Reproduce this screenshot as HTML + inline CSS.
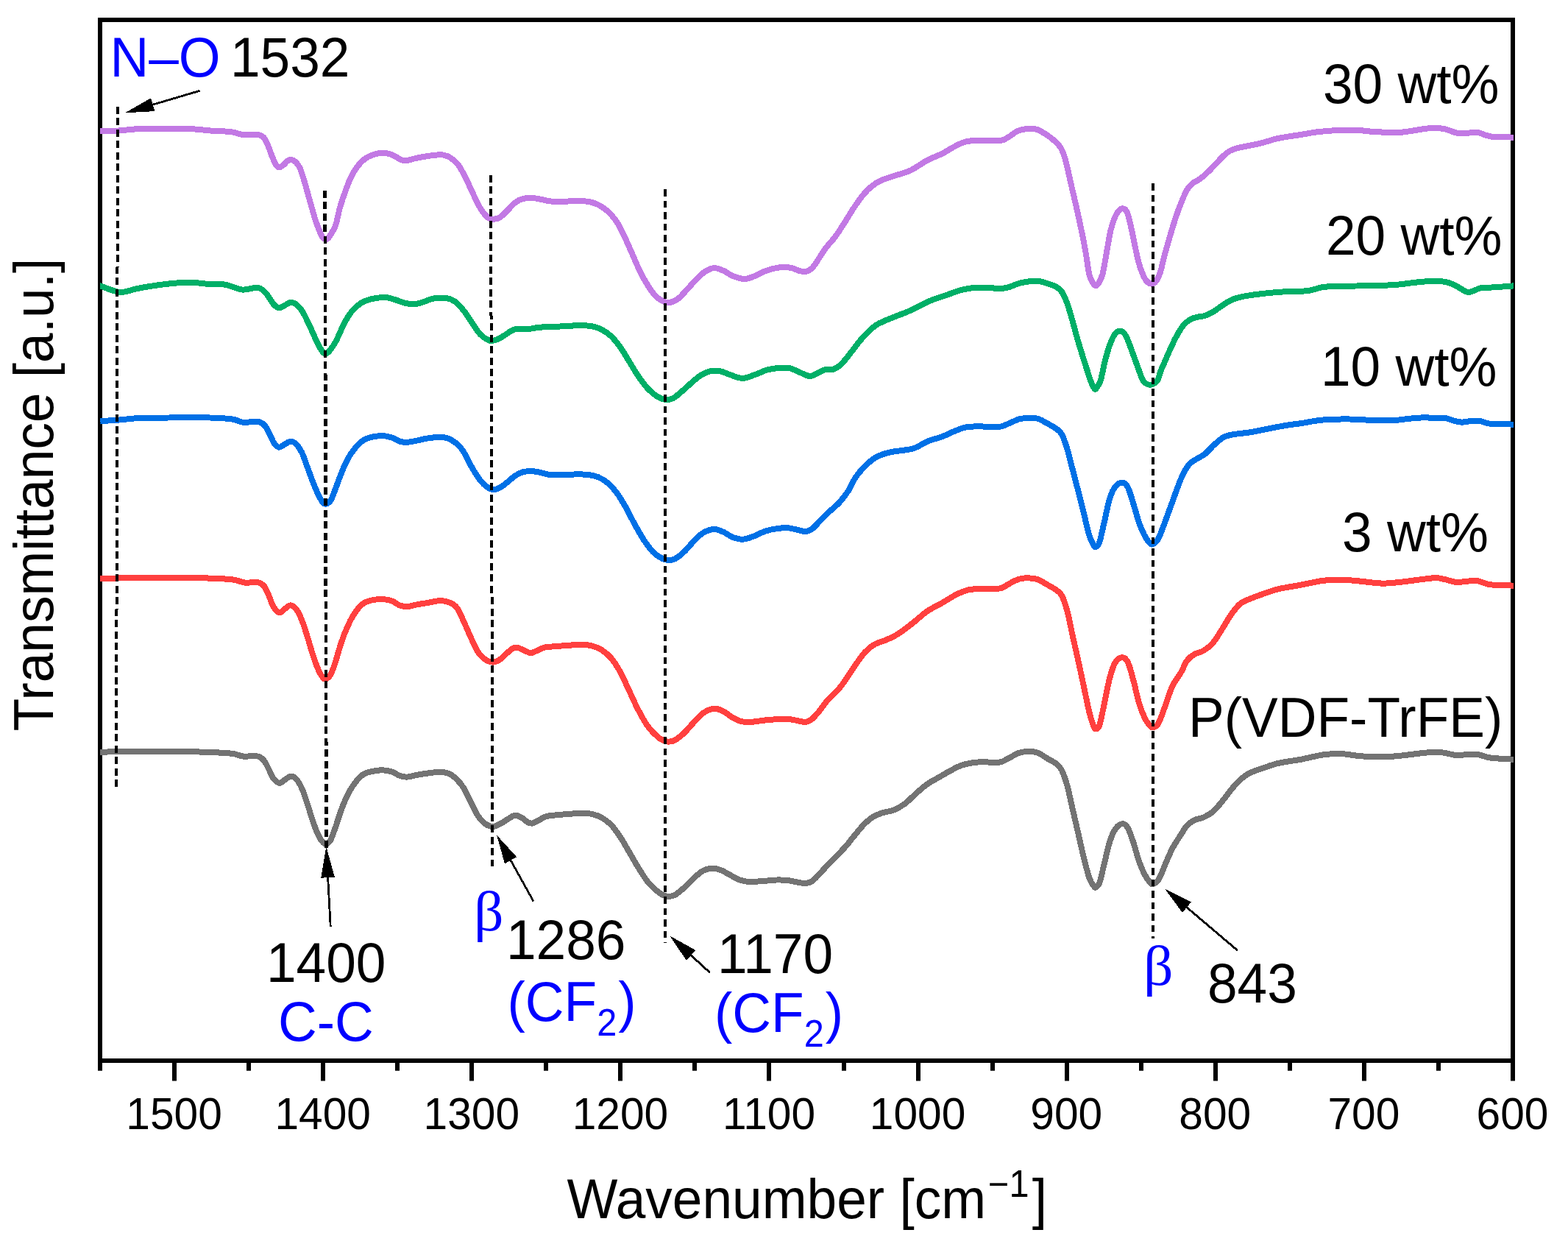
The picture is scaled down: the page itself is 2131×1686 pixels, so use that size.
<!DOCTYPE html>
<html lang="en"><head><meta charset="utf-8"><title>FTIR spectra</title>
<style>html,body{margin:0;padding:0;background:#fff;overflow:hidden}svg{display:block}</style></head>
<body>
<svg width="2131" height="1686" viewBox="0 0 2131 1686" font-family='"Liberation Sans", "DejaVu Sans", sans-serif'>
<rect x="0" y="0" width="2131" height="1686" fill="#fff"/>
<line x1="136" y1="1441.0" x2="136" y2="1454.7" stroke="#000" stroke-width="6"/>
<line x1="237" y1="1441.0" x2="237" y2="1468.5" stroke="#000" stroke-width="6"/>
<line x1="338" y1="1441.0" x2="338" y2="1454.7" stroke="#000" stroke-width="6"/>
<line x1="439" y1="1441.0" x2="439" y2="1468.5" stroke="#000" stroke-width="6"/>
<line x1="540" y1="1441.0" x2="540" y2="1454.7" stroke="#000" stroke-width="6"/>
<line x1="641" y1="1441.0" x2="641" y2="1468.5" stroke="#000" stroke-width="6"/>
<line x1="742" y1="1441.0" x2="742" y2="1454.7" stroke="#000" stroke-width="6"/>
<line x1="843" y1="1441.0" x2="843" y2="1468.5" stroke="#000" stroke-width="6"/>
<line x1="944" y1="1441.0" x2="944" y2="1454.7" stroke="#000" stroke-width="6"/>
<line x1="1045" y1="1441.0" x2="1045" y2="1468.5" stroke="#000" stroke-width="6"/>
<line x1="1147" y1="1441.0" x2="1147" y2="1454.7" stroke="#000" stroke-width="6"/>
<line x1="1248" y1="1441.0" x2="1248" y2="1468.5" stroke="#000" stroke-width="6"/>
<line x1="1349" y1="1441.0" x2="1349" y2="1454.7" stroke="#000" stroke-width="6"/>
<line x1="1450" y1="1441.0" x2="1450" y2="1468.5" stroke="#000" stroke-width="6"/>
<line x1="1551" y1="1441.0" x2="1551" y2="1454.7" stroke="#000" stroke-width="6"/>
<line x1="1652" y1="1441.0" x2="1652" y2="1468.5" stroke="#000" stroke-width="6"/>
<line x1="1753" y1="1441.0" x2="1753" y2="1454.7" stroke="#000" stroke-width="6"/>
<line x1="1854" y1="1441.0" x2="1854" y2="1468.5" stroke="#000" stroke-width="6"/>
<line x1="1955" y1="1441.0" x2="1955" y2="1454.7" stroke="#000" stroke-width="6"/>
<line x1="2056" y1="1441.0" x2="2056" y2="1468.5" stroke="#000" stroke-width="6"/>
<rect x="136.0" y="27.0" width="1920.0" height="1414.0" fill="none" stroke="#000" stroke-width="6"/>
<clipPath id="plotclip"><rect x="136" y="30" width="1921" height="1408"/></clipPath>
<g fill="none" stroke-width="8" stroke-linejoin="round" stroke-linecap="butt" clip-path="url(#plotclip)" shape-rendering="crispEdges">
<path stroke="#737373" d="M133.3 1021.8C133.8 1021.8 128.9 1022.0 136.3 1021.8C143.7 1021.6 162.0 1021.0 177.6 1020.8C193.2 1020.6 213.0 1020.6 230.1 1020.8C247.2 1021.0 266.0 1021.3 280.2 1021.8C294.4 1022.3 306.9 1022.8 315.3 1023.8C323.7 1024.8 324.5 1026.9 330.3 1027.5C336.1 1028.1 345.5 1026.5 350.3 1027.5C355.1 1028.5 356.6 1030.9 359.1 1033.8C361.6 1036.7 363.2 1041.1 365.3 1045.1C367.4 1049.1 369.2 1054.5 371.6 1057.6C374.0 1060.7 377.1 1063.6 379.8 1063.8C382.5 1064.0 385.3 1060.3 387.9 1058.8C390.5 1057.3 392.9 1054.6 395.4 1054.6C397.9 1054.6 400.4 1056.0 402.9 1058.8C405.4 1061.6 407.9 1065.8 410.4 1071.4C412.9 1077.0 415.4 1085.1 417.9 1092.6C420.4 1100.1 422.9 1109.3 425.4 1116.4C427.9 1123.5 430.6 1130.5 432.9 1135.2C435.2 1139.9 437.4 1142.8 439.2 1144.7C440.9 1146.6 441.7 1147.0 443.4 1146.5C445.1 1146.0 447.2 1145.0 449.2 1141.4C451.2 1137.9 453.2 1131.7 455.5 1125.2C457.8 1118.7 460.5 1109.5 463.0 1102.6C465.5 1095.7 467.6 1090.0 470.5 1083.9C473.4 1077.9 476.8 1071.5 480.5 1066.3C484.2 1061.1 488.8 1055.6 493.0 1052.6C497.2 1049.6 500.9 1049.1 505.5 1048.1C510.1 1047.0 515.9 1046.2 520.5 1046.3C525.1 1046.4 529.3 1047.5 533.1 1048.8C536.9 1050.0 539.8 1052.7 543.1 1053.8C546.4 1054.9 548.9 1055.8 553.1 1055.6C557.3 1055.4 563.5 1053.4 568.1 1052.6C572.7 1051.8 575.6 1051.2 580.6 1050.6C585.6 1050.0 593.2 1048.7 598.2 1048.8C603.2 1048.9 607.0 1049.6 610.7 1051.3C614.5 1053.0 617.5 1055.6 620.7 1058.8C623.9 1062.0 626.8 1065.0 630.0 1070.3C633.2 1075.5 636.7 1083.8 640.0 1090.3C643.3 1096.8 646.7 1104.2 650.0 1109.1C653.3 1114.0 656.6 1117.3 660.0 1119.6C663.4 1121.9 666.8 1123.0 670.1 1122.9C673.5 1122.8 676.8 1120.8 680.1 1119.1C683.4 1117.4 687.2 1114.7 690.1 1112.9C693.0 1111.1 695.5 1109.2 697.6 1108.4C699.7 1107.6 700.5 1107.4 702.6 1107.9C704.7 1108.4 707.6 1110.0 710.1 1111.6C712.6 1113.2 715.3 1116.3 717.6 1117.4C719.9 1118.5 721.4 1119.0 723.9 1118.4C726.4 1117.9 729.5 1115.6 732.6 1114.1C735.7 1112.5 738.9 1110.2 742.7 1109.1C746.5 1108.0 750.2 1107.9 755.2 1107.4C760.2 1106.9 766.9 1106.3 772.7 1105.9C778.5 1105.5 784.8 1104.9 790.2 1104.9C795.6 1104.9 800.6 1105.1 805.2 1106.1C809.8 1107.1 813.6 1108.5 817.8 1110.9C822.0 1113.3 826.1 1116.1 830.3 1120.4C834.5 1124.7 838.6 1130.5 842.8 1136.7C847.0 1143.0 851.1 1150.8 855.3 1157.9C859.5 1165.0 863.6 1172.5 867.8 1179.2C872.0 1185.9 876.1 1192.8 880.3 1198.0C884.5 1203.2 889.3 1207.5 892.9 1210.5C896.5 1213.5 898.9 1215.0 901.6 1216.3C904.3 1217.5 906.4 1218.1 909.1 1218.0C911.8 1217.9 914.4 1217.6 917.9 1215.5C921.4 1213.4 926.2 1209.2 930.4 1205.5C934.6 1201.8 938.7 1196.8 942.9 1193.0C947.1 1189.2 951.3 1185.2 955.5 1183.0C959.7 1180.8 963.8 1179.8 968.0 1179.7C972.2 1179.6 976.3 1180.9 980.5 1182.5C984.7 1184.1 988.8 1187.0 993.0 1189.2C997.2 1191.4 1001.3 1194.0 1005.5 1195.5C1009.7 1197.0 1012.1 1197.8 1018.0 1198.0C1023.9 1198.2 1034.3 1197.1 1040.6 1196.7C1046.9 1196.3 1050.6 1195.6 1055.6 1195.5C1060.6 1195.4 1066.0 1195.5 1070.6 1196.0C1075.2 1196.5 1079.1 1197.8 1083.1 1198.5C1087.1 1199.2 1091.1 1200.2 1094.4 1200.0C1097.8 1199.8 1100.1 1199.5 1103.2 1197.5C1106.3 1195.5 1109.5 1191.9 1113.2 1188.0C1117.0 1184.1 1121.1 1179.0 1125.7 1174.2C1130.3 1169.4 1136.1 1164.0 1140.7 1159.2C1145.3 1154.4 1150.0 1149.2 1153.2 1145.4C1156.4 1141.6 1156.4 1141.0 1160.1 1136.6C1163.8 1132.2 1170.5 1123.7 1175.1 1119.1C1179.7 1114.5 1183.4 1111.6 1187.6 1109.1C1191.8 1106.6 1195.5 1105.6 1200.1 1104.1C1204.7 1102.6 1210.2 1102.4 1215.2 1100.3C1220.2 1098.2 1225.2 1095.3 1230.2 1091.6C1235.2 1087.8 1240.2 1082.2 1245.2 1077.8C1250.2 1073.4 1255.2 1068.8 1260.2 1065.3C1265.2 1061.8 1270.2 1059.4 1275.2 1056.5C1280.2 1053.6 1285.3 1050.5 1290.3 1047.8C1295.3 1045.1 1300.3 1042.2 1305.3 1040.3C1310.3 1038.4 1315.3 1037.3 1320.3 1036.5C1325.3 1035.7 1330.7 1035.3 1335.3 1035.2C1339.9 1035.1 1343.6 1035.7 1347.8 1035.7C1352.0 1035.7 1356.2 1036.3 1360.4 1035.2C1364.6 1034.1 1368.7 1031.1 1372.9 1029.0C1377.1 1026.9 1381.2 1024.0 1385.4 1022.7C1389.6 1021.4 1393.7 1021.0 1397.9 1021.0C1402.1 1021.0 1406.2 1021.2 1410.4 1022.7C1414.6 1024.2 1418.7 1027.7 1422.9 1030.2C1427.1 1032.7 1432.2 1035.0 1435.5 1037.7C1438.8 1040.4 1440.5 1041.5 1443.0 1046.5C1445.5 1051.5 1448.0 1058.8 1450.5 1067.8C1453.0 1076.8 1455.5 1089.4 1458.0 1100.3C1460.5 1111.2 1463.0 1122.1 1465.5 1132.9C1468.0 1143.8 1470.5 1155.4 1473.0 1165.4C1475.5 1175.4 1478.2 1186.5 1480.5 1193.0C1482.8 1199.5 1485.3 1202.1 1486.8 1204.2C1488.3 1206.3 1488.0 1206.3 1489.3 1205.5C1490.5 1204.7 1492.4 1204.4 1494.3 1199.2C1496.2 1194.0 1498.3 1183.4 1500.6 1174.2C1502.9 1165.0 1505.6 1152.0 1508.1 1144.1C1510.6 1136.2 1512.7 1130.8 1515.6 1126.6C1518.5 1122.4 1522.7 1119.3 1525.6 1119.1C1528.5 1118.9 1530.6 1121.0 1533.1 1125.4C1535.6 1129.8 1538.1 1137.9 1540.6 1145.4C1543.1 1152.9 1545.6 1163.3 1548.1 1170.4C1550.6 1177.5 1553.1 1183.2 1555.6 1188.0C1558.1 1192.8 1561.2 1197.0 1563.1 1199.2C1565.0 1201.4 1565.0 1201.6 1566.9 1201.0C1568.8 1200.4 1571.7 1199.8 1574.4 1195.5C1577.1 1191.2 1580.1 1182.5 1583.2 1175.4C1586.3 1168.3 1589.5 1160.0 1593.2 1152.9C1596.9 1145.9 1602.2 1138.3 1605.5 1133.1C1608.8 1127.9 1610.1 1124.9 1613.0 1121.8C1615.9 1118.7 1619.2 1116.2 1623.0 1114.3C1626.8 1112.4 1631.4 1112.4 1635.6 1110.5C1639.8 1108.6 1643.9 1106.5 1648.1 1103.0C1652.3 1099.5 1656.4 1094.2 1660.6 1089.2C1664.8 1084.2 1668.9 1078.0 1673.1 1073.0C1677.3 1068.0 1681.4 1063.0 1685.6 1059.2C1689.8 1055.4 1692.7 1053.1 1698.1 1050.4C1703.5 1047.7 1711.5 1045.2 1718.2 1042.9C1724.9 1040.6 1729.9 1038.6 1738.2 1036.7C1746.5 1034.8 1758.2 1033.6 1768.2 1031.7C1778.2 1029.8 1789.1 1026.7 1798.3 1025.4C1807.5 1024.1 1814.9 1023.8 1823.3 1024.1C1831.7 1024.4 1839.2 1026.5 1848.4 1027.2C1857.6 1027.9 1869.2 1028.5 1878.4 1028.4C1887.6 1028.3 1895.1 1027.5 1903.4 1026.7C1911.8 1025.9 1920.6 1024.5 1928.5 1023.6C1936.4 1022.8 1945.2 1021.7 1951.0 1021.6C1956.8 1021.5 1958.9 1022.2 1963.5 1022.9C1968.1 1023.6 1973.9 1025.5 1978.5 1025.9C1983.1 1026.3 1986.4 1025.6 1991.0 1025.4C1995.6 1025.2 2001.5 1024.2 2006.1 1024.6C2010.7 1025.0 2014.8 1027.0 2018.6 1027.9C2022.3 1028.8 2022.3 1029.3 2028.6 1029.9C2034.8 1030.5 2050.8 1031.4 2056.1 1031.7C2061.3 1032.0 2059.4 1031.7 2060.1 1031.7"/>
<path stroke="#FF403F" d="M133.3 786.1C133.8 786.1 129.8 786.2 136.3 786.1C142.9 786.0 157.0 785.5 172.6 785.3C188.2 785.1 213.0 784.8 230.1 784.8C247.2 784.8 261.0 784.9 275.2 785.3C289.4 785.7 305.7 786.2 315.3 787.3C324.9 788.3 327.0 791.0 332.8 791.6C338.6 792.2 345.9 790.3 350.3 791.1C354.7 791.9 356.6 793.6 359.1 796.6C361.6 799.6 363.2 804.5 365.3 809.1C367.4 813.7 369.2 820.2 371.6 824.1C374.0 828.0 377.1 832.0 379.8 832.4C382.5 832.8 385.4 828.3 387.9 826.6C390.4 824.9 392.4 822.2 394.9 822.4C397.4 822.6 400.3 824.5 402.9 827.9C405.5 831.3 407.9 836.6 410.4 842.9C412.9 849.2 415.4 857.6 417.9 865.5C420.4 873.4 422.9 883.0 425.4 890.5C427.9 898.0 430.6 905.4 432.9 910.5C435.2 915.6 437.5 919.0 439.2 921.0C440.9 923.0 441.2 923.2 442.9 922.5C444.6 921.8 447.1 920.5 449.2 916.8C451.3 913.1 453.2 907.4 455.5 900.5C457.8 893.6 460.5 883.0 463.0 875.5C465.5 868.0 467.6 862.1 470.5 855.4C473.4 848.7 476.8 841.2 480.5 835.4C484.2 829.6 488.8 823.7 493.0 820.4C497.2 817.1 500.9 816.4 505.5 815.4C510.1 814.4 515.9 813.9 520.5 814.1C525.1 814.3 529.3 815.2 533.1 816.6C536.9 818.0 539.8 821.1 543.1 822.4C546.4 823.6 548.9 824.3 553.1 824.1C557.3 823.9 563.5 821.9 568.1 821.1C572.7 820.3 575.6 819.9 580.6 819.1C585.6 818.3 593.2 816.2 598.2 816.1C603.2 816.0 607.0 817.1 610.7 818.6C614.5 820.1 617.5 821.2 620.7 825.4C623.9 829.6 626.8 837.0 630.0 843.8C633.2 850.6 636.7 859.2 640.0 866.3C643.3 873.4 646.7 881.3 650.0 886.3C653.3 891.3 656.6 894.1 660.0 896.3C663.4 898.5 666.8 899.7 670.1 899.6C673.5 899.5 676.8 897.8 680.1 895.6C683.4 893.4 687.2 888.8 690.1 886.3C693.0 883.8 695.3 881.6 697.6 880.6C699.9 879.6 701.4 879.6 703.9 880.1C706.4 880.6 709.7 882.6 712.6 883.8C715.5 885.0 718.5 887.1 721.4 887.1C724.3 887.1 727.0 885.0 730.1 883.8C733.2 882.5 736.0 880.5 740.2 879.6C744.4 878.7 749.8 878.6 755.2 878.1C760.6 877.6 766.9 877.2 772.7 876.8C778.5 876.4 784.8 875.7 790.2 875.8C795.6 875.9 800.6 876.4 805.2 877.6C809.8 878.8 813.6 880.4 817.8 883.1C822.0 885.8 826.1 888.9 830.3 893.8C834.5 898.7 838.6 905.1 842.8 912.6C847.0 920.1 851.1 930.1 855.3 938.9C859.5 947.7 863.6 957.3 867.8 965.2C872.0 973.1 876.1 980.7 880.3 986.5C884.5 992.3 889.3 997.0 892.9 1000.2C896.5 1003.5 898.9 1004.8 901.6 1006.0C904.3 1007.2 906.4 1007.8 909.1 1007.7C911.8 1007.6 914.4 1007.3 917.9 1005.2C921.4 1003.1 926.2 999.2 930.4 995.2C934.6 991.2 938.7 985.8 942.9 981.4C947.1 977.0 950.9 972.0 955.5 968.9C960.1 965.8 965.9 963.1 970.5 962.7C975.1 962.3 978.8 964.4 983.0 966.4C987.2 968.4 991.3 972.4 995.5 974.7C999.7 977.0 1003.8 979.2 1008.0 980.2C1012.2 981.2 1015.1 981.2 1020.5 980.9C1025.9 980.6 1034.8 979.0 1040.6 978.4C1046.4 977.8 1050.6 977.5 1055.6 977.2C1060.6 977.0 1066.0 976.6 1070.6 976.9C1075.2 977.2 1079.1 978.2 1083.1 978.9C1087.1 979.6 1091.1 981.2 1094.4 980.9C1097.8 980.6 1100.1 979.6 1103.2 977.2C1106.3 974.8 1109.5 970.9 1113.2 966.4C1117.0 961.9 1121.1 955.4 1125.7 950.2C1130.3 945.0 1136.1 940.5 1140.7 935.1C1145.3 929.7 1149.6 922.9 1153.2 917.6C1156.8 912.3 1158.9 908.7 1162.6 903.5C1166.2 898.3 1170.9 891.1 1175.1 886.5C1179.3 881.9 1182.6 878.9 1187.6 876.0C1192.6 873.1 1199.8 871.4 1205.2 869.0C1210.6 866.6 1214.4 865.2 1220.2 861.5C1226.0 857.8 1233.5 851.9 1240.2 846.7C1246.9 841.5 1253.5 835.0 1260.2 830.4C1266.9 825.8 1273.6 822.9 1280.3 819.1C1287.0 815.3 1294.5 810.3 1300.3 807.4C1306.1 804.5 1310.3 802.9 1315.3 801.6C1320.3 800.4 1325.3 800.2 1330.3 799.9C1335.3 799.6 1340.3 800.0 1345.3 799.9C1350.3 799.8 1355.8 800.4 1360.4 799.1C1365.0 797.8 1368.7 794.4 1372.9 792.3C1377.1 790.2 1381.2 787.8 1385.4 786.6C1389.6 785.4 1393.7 785.2 1397.9 785.3C1402.1 785.4 1406.2 785.8 1410.4 787.3C1414.6 788.8 1418.7 791.7 1422.9 794.1C1427.1 796.5 1432.2 799.1 1435.5 801.6C1438.8 804.1 1440.5 804.3 1443.0 809.1C1445.5 813.9 1448.0 821.1 1450.5 830.4C1453.0 839.7 1455.5 853.7 1458.0 865.0C1460.5 876.3 1463.0 886.7 1465.5 898.0C1468.0 909.3 1470.5 921.3 1473.0 933.0C1475.5 944.7 1478.2 958.9 1480.5 968.0C1482.8 977.1 1485.2 984.0 1486.8 987.7C1488.3 991.4 1488.5 990.6 1489.8 990.2C1491.0 989.8 1492.5 990.7 1494.3 985.2C1496.1 979.7 1498.3 967.6 1500.6 957.0C1502.9 946.4 1505.6 931.0 1508.1 921.5C1510.6 912.0 1512.7 905.0 1515.6 900.3C1518.5 895.6 1522.7 893.2 1525.6 893.2C1528.5 893.2 1530.6 894.9 1533.1 900.3C1535.6 905.6 1538.1 916.1 1540.6 925.3C1543.1 934.5 1545.6 947.0 1548.1 955.3C1550.6 963.6 1553.1 970.0 1555.6 975.2C1558.1 980.4 1561.1 984.2 1563.1 986.4C1565.1 988.6 1565.8 988.8 1567.7 988.2C1569.6 987.6 1571.8 987.4 1574.4 982.7C1577.0 978.0 1580.1 968.5 1583.2 960.1C1586.3 951.8 1589.5 940.5 1593.2 932.6C1596.9 924.7 1602.2 918.5 1605.5 912.7C1608.8 906.9 1610.1 901.7 1613.0 897.7C1615.9 893.8 1619.2 891.3 1623.0 889.0C1626.8 886.7 1631.4 886.5 1635.6 884.0C1639.8 881.5 1643.9 878.7 1648.1 873.9C1652.3 869.1 1656.4 861.7 1660.6 855.2C1664.8 848.7 1668.9 841.0 1673.1 835.1C1677.3 829.2 1681.4 823.6 1685.6 820.1C1689.8 816.6 1692.7 816.2 1698.1 813.9C1703.5 811.6 1711.5 808.6 1718.2 806.3C1724.9 804.0 1729.9 802.0 1738.2 800.1C1746.5 798.2 1758.2 796.5 1768.2 794.6C1778.2 792.7 1789.1 790.0 1798.3 788.8C1807.5 787.6 1814.9 787.5 1823.3 787.6C1831.7 787.7 1839.2 788.8 1848.4 789.6C1857.6 790.4 1869.2 792.4 1878.4 792.6C1887.6 792.8 1895.1 791.6 1903.4 790.8C1911.8 790.0 1920.6 788.5 1928.5 787.6C1936.4 786.7 1945.2 785.2 1951.0 785.1C1956.8 785.0 1958.9 786.2 1963.5 787.1C1968.1 788.0 1973.9 790.3 1978.5 790.8C1983.1 791.3 1986.4 790.4 1991.0 790.1C1995.6 789.8 2001.5 788.4 2006.1 788.8C2010.7 789.2 2014.8 791.6 2018.6 792.6C2022.3 793.6 2022.3 794.1 2028.6 794.6C2034.8 795.1 2050.8 795.4 2056.1 795.6C2061.3 795.8 2059.4 795.6 2060.1 795.6"/>
<path stroke="#0070E6" d="M133.3 572.0C133.8 572.0 132.1 572.2 136.3 572.0C140.6 571.8 149.8 571.5 158.8 570.8C167.8 570.1 178.2 568.5 190.1 568.0C202.0 567.5 214.2 567.6 230.1 567.5C245.9 567.4 271.0 567.2 285.2 567.5C299.4 567.8 307.8 568.5 315.3 569.5C322.8 570.5 325.7 573.2 330.3 573.8C334.9 574.4 339.1 573.1 342.8 573.0C346.6 572.9 349.9 572.3 352.8 573.3C355.7 574.3 358.0 576.0 360.3 578.8C362.6 581.6 364.5 586.1 366.6 590.1C368.7 594.1 370.7 599.7 372.8 602.6C374.9 605.5 376.8 607.4 379.1 607.6C381.4 607.8 383.9 605.1 386.6 603.8C389.3 602.5 392.7 599.6 395.4 599.6C398.1 599.6 400.4 601.2 402.9 603.8C405.4 606.4 407.9 609.9 410.4 615.1C412.9 620.3 415.4 628.4 417.9 635.1C420.4 641.8 422.9 648.9 425.4 655.2C427.9 661.5 430.6 668.0 432.9 672.7C435.2 677.4 437.5 681.2 439.2 683.2C440.9 685.2 441.2 685.2 442.9 684.7C444.6 684.2 447.1 683.5 449.2 680.2C451.3 677.0 453.2 671.1 455.5 665.2C457.8 659.4 460.5 651.4 463.0 645.1C465.5 638.8 467.6 633.2 470.5 627.6C473.4 622.0 476.8 616.2 480.5 611.4C484.2 606.6 488.8 601.7 493.0 598.8C497.2 595.9 500.9 594.9 505.5 593.8C510.1 592.7 515.9 592.0 520.5 592.1C525.1 592.2 529.3 593.4 533.1 594.6C536.9 595.9 539.8 598.6 543.1 599.6C546.4 600.6 549.4 600.9 553.1 600.8C556.9 600.7 561.0 599.7 565.6 598.8C570.2 597.9 575.2 596.4 580.6 595.6C586.0 594.8 593.2 593.7 598.2 593.8C603.2 593.9 606.5 594.4 610.7 596.3C614.9 598.2 620.0 602.2 623.2 605.1C626.4 608.0 627.2 609.2 630.0 613.8C632.8 618.4 636.7 626.8 640.0 632.6C643.3 638.5 646.7 644.3 650.0 648.9C653.3 653.5 656.6 657.4 660.0 660.1C663.4 662.8 666.8 664.8 670.1 665.1C673.5 665.4 676.8 663.9 680.1 662.1C683.4 660.4 686.8 657.2 690.1 654.6C693.4 652.0 696.8 648.6 700.1 646.4C703.4 644.2 706.4 642.4 710.1 641.4C713.9 640.4 718.4 640.0 722.6 640.1C726.8 640.2 730.9 641.3 735.1 642.1C739.3 642.9 742.7 644.6 747.7 645.1C752.7 645.6 759.0 645.2 765.2 645.1C771.5 645.0 779.4 644.4 785.2 644.4C791.0 644.4 795.6 644.5 800.2 645.1C804.8 645.7 808.6 646.4 812.8 648.1C817.0 649.9 821.1 652.1 825.3 655.6C829.5 659.1 833.6 663.4 837.8 668.9C842.0 674.4 846.1 681.6 850.3 688.9C854.5 696.2 858.6 705.2 862.8 712.7C867.0 720.2 871.1 727.7 875.3 734.0C879.5 740.3 883.7 746.1 887.9 750.3C892.1 754.5 896.9 757.2 900.4 759.0C903.9 760.8 906.2 761.0 909.1 761.0C912.0 761.0 914.4 761.0 917.9 759.0C921.4 757.0 926.2 753.0 930.4 749.0C934.6 745.0 938.7 739.4 942.9 735.2C947.1 731.0 950.9 726.7 955.5 724.0C960.1 721.3 965.9 719.2 970.5 719.0C975.1 718.8 978.8 720.9 983.0 722.7C987.2 724.5 991.1 728.0 995.5 729.7C999.9 731.4 1004.7 732.8 1009.3 732.7C1013.9 732.6 1017.9 730.9 1023.1 729.0C1028.3 727.1 1035.2 723.3 1040.6 721.5C1046.0 719.7 1050.6 718.9 1055.6 718.2C1060.6 717.5 1066.0 717.0 1070.6 717.2C1075.2 717.5 1079.1 718.9 1083.1 719.7C1087.1 720.5 1091.1 722.1 1094.4 722.0C1097.8 721.9 1100.1 721.2 1103.2 719.0C1106.3 716.8 1109.5 712.8 1113.2 709.0C1117.0 705.2 1121.1 700.8 1125.7 696.4C1130.3 692.0 1136.1 687.7 1140.7 682.7C1145.3 677.7 1149.6 672.0 1153.2 666.4C1156.8 660.8 1158.9 654.3 1162.6 648.9C1166.2 643.5 1170.9 638.2 1175.1 633.9C1179.3 629.6 1183.4 625.9 1187.6 623.1C1191.8 620.3 1195.9 618.7 1200.1 617.1C1204.3 615.5 1208.1 614.7 1212.7 613.8C1217.3 612.9 1222.7 612.6 1227.7 611.8C1232.7 611.0 1236.9 611.0 1242.7 608.8C1248.5 606.6 1256.4 601.4 1262.7 598.8C1269.0 596.2 1274.5 595.5 1280.3 593.3C1286.1 591.1 1292.4 587.6 1297.8 585.5C1303.2 583.4 1307.4 581.5 1312.8 580.5C1318.2 579.5 1324.9 579.4 1330.3 579.3C1335.7 579.2 1340.3 580.0 1345.3 580.0C1350.3 580.0 1355.8 580.4 1360.4 579.5C1365.0 578.6 1368.7 576.2 1372.9 574.5C1377.1 572.8 1381.2 570.4 1385.4 569.3C1389.6 568.2 1393.7 568.1 1397.9 568.0C1402.1 567.9 1406.2 567.6 1410.4 568.8C1414.6 570.0 1418.7 572.7 1422.9 575.0C1427.1 577.3 1432.2 580.0 1435.5 582.5C1438.8 585.0 1440.5 585.5 1443.0 590.1C1445.5 594.7 1448.0 602.0 1450.5 610.1C1453.0 618.2 1455.5 629.3 1458.0 638.9C1460.5 648.5 1463.0 657.9 1465.5 667.7C1468.0 677.5 1470.5 687.7 1473.0 697.7C1475.5 707.7 1478.2 720.4 1480.5 727.7C1482.8 735.0 1485.2 739.0 1486.8 741.5C1488.3 744.0 1488.5 743.6 1489.8 742.8C1491.0 742.0 1492.5 741.9 1494.3 736.5C1496.1 731.1 1498.3 720.0 1500.6 710.2C1502.9 700.4 1505.6 685.8 1508.1 677.7C1510.6 669.6 1512.7 665.1 1515.6 661.4C1518.5 657.7 1522.7 655.4 1525.6 655.6C1528.5 655.8 1530.6 657.8 1533.1 662.7C1535.6 667.6 1538.1 677.3 1540.6 685.2C1543.1 693.1 1545.6 703.1 1548.1 710.2C1550.6 717.3 1553.1 723.0 1555.6 727.7C1558.1 732.4 1561.2 736.4 1563.1 738.3C1565.0 740.2 1565.0 740.1 1566.9 739.0C1568.8 737.9 1571.3 737.5 1574.4 731.5C1577.5 725.5 1582.2 712.1 1585.7 702.7C1589.2 693.3 1592.4 684.2 1595.7 675.2C1599.0 666.2 1602.4 656.2 1605.7 648.9C1609.0 641.6 1612.4 635.6 1615.7 631.4C1619.0 627.2 1622.0 626.4 1625.7 623.9C1629.4 621.4 1633.7 619.9 1637.8 616.6C1641.9 613.3 1646.1 607.9 1650.3 604.1C1654.5 600.4 1658.7 596.4 1662.9 594.1C1667.1 591.8 1669.2 591.5 1675.4 590.3C1681.7 589.1 1692.1 588.5 1700.4 587.1C1708.8 585.7 1717.3 583.7 1725.5 582.1C1733.7 580.5 1742.6 578.8 1749.8 577.6C1757.0 576.4 1762.2 576.1 1768.5 575.1C1774.8 574.1 1781.0 572.7 1787.3 571.8C1793.6 570.9 1798.3 570.3 1806.1 569.9C1813.9 569.5 1824.8 569.4 1834.2 569.5C1843.6 569.6 1853.0 570.5 1862.4 570.8C1871.8 571.1 1882.8 571.6 1890.6 571.4C1898.4 571.2 1903.0 570.1 1909.3 569.5C1915.5 568.9 1921.8 567.9 1928.1 567.6C1934.4 567.3 1941.0 567.5 1946.9 567.6C1952.9 567.7 1959.1 567.4 1963.8 568.0C1968.5 568.6 1971.2 570.5 1975.0 571.4C1978.8 572.3 1982.5 573.5 1986.3 573.6C1990.0 573.8 1993.4 572.6 1997.5 572.3C2001.6 572.0 2006.3 571.5 2010.7 572.0C2015.1 572.5 2018.8 574.8 2023.8 575.5C2028.8 576.2 2035.4 575.9 2040.7 576.1C2046.0 576.3 2052.5 576.5 2055.7 576.6C2058.9 576.7 2059.0 576.6 2059.7 576.6"/>
<path stroke="#00AF67" d="M133.2 388.4C133.7 388.4 133.6 387.6 136.2 388.4C138.8 389.2 144.8 391.8 148.8 393.1C152.8 394.5 156.6 395.9 160.0 396.5C163.4 397.1 165.0 397.2 169.4 396.5C173.8 395.8 180.4 393.4 186.3 392.1C192.2 390.8 198.8 389.8 205.1 388.8C211.4 387.8 217.7 386.9 223.9 386.1C230.2 385.4 236.3 384.7 242.6 384.3C248.8 383.9 255.1 383.5 261.4 383.7C267.7 383.9 273.0 385.1 280.2 385.6C287.4 386.1 298.4 385.7 304.6 386.5C310.9 387.3 313.5 389.1 317.7 390.3C321.9 391.5 326.1 393.3 329.9 393.6C333.6 393.9 336.9 392.6 340.2 392.1C343.5 391.6 346.8 390.5 349.6 390.8C352.4 391.1 354.6 392.1 357.1 394.0C359.6 395.9 362.1 399.2 364.6 402.5C367.1 405.8 369.6 411.1 372.1 413.7C374.6 416.3 377.1 418.2 379.6 418.4C382.1 418.6 384.5 415.9 387.2 414.7C389.9 413.4 392.8 410.9 395.6 410.9C398.4 410.9 401.3 412.5 404.0 414.7C406.7 416.9 408.8 419.4 411.6 424.1C414.4 428.8 417.8 436.2 420.9 442.8C424.0 449.4 427.7 458.1 430.3 463.5C432.9 468.9 434.6 472.2 436.5 475.0C438.4 477.8 439.7 480.2 441.5 480.5C443.3 480.8 445.0 479.8 447.5 477.0C450.0 474.2 453.2 469.8 456.6 463.5C460.0 457.2 464.4 445.7 467.9 439.1C471.3 432.5 474.2 428.2 477.3 424.1C480.4 420.0 483.5 417.2 486.6 414.7C489.7 412.2 492.2 410.6 496.0 409.0C499.8 407.4 504.4 406.1 509.2 405.3C514.0 404.5 520.3 403.8 525.0 404.1C529.7 404.5 533.4 406.1 537.6 407.4C541.8 408.6 545.9 410.6 550.1 411.6C554.3 412.6 558.4 413.6 562.6 413.4C566.8 413.2 570.9 411.6 575.1 410.4C579.3 409.1 583.4 406.9 587.6 405.9C591.8 404.9 595.9 404.5 600.1 404.6C604.3 404.7 608.9 405.1 612.7 406.6C616.5 408.1 619.4 410.3 622.7 413.4C626.0 416.5 629.4 420.9 632.7 425.4C636.0 429.9 639.4 435.6 642.7 440.4C646.0 445.2 649.4 450.6 652.7 454.2C656.0 457.8 660.0 460.2 662.7 461.7C665.4 463.1 666.5 463.1 669.0 462.9C671.5 462.7 674.6 461.8 677.7 460.4C680.8 458.9 684.4 456.3 687.8 454.2C691.1 452.1 694.5 449.1 697.8 447.9C701.1 446.6 704.0 446.9 707.8 446.7C711.5 446.5 716.1 447.0 720.3 446.7C724.5 446.4 727.8 445.1 732.8 444.7C737.8 444.3 744.0 444.5 750.3 444.2C756.6 443.9 763.7 443.2 770.4 442.9C777.1 442.6 784.6 442.1 790.4 442.2C796.2 442.3 800.8 442.4 805.4 443.4C810.0 444.3 813.7 445.7 817.9 447.9C822.1 450.1 826.3 452.7 830.5 456.7C834.7 460.7 838.8 465.9 843.0 471.7C847.2 477.5 851.3 485.0 855.5 491.7C859.7 498.4 863.8 505.8 868.0 511.8C872.2 517.9 876.3 523.5 880.5 528.0C884.7 532.5 888.9 536.1 893.1 538.6C897.3 541.1 901.9 542.8 905.6 543.1C909.4 543.4 911.9 542.7 915.6 540.6C919.4 538.5 923.9 534.0 928.1 530.5C932.3 527.0 936.4 522.8 940.6 519.3C944.8 515.8 948.9 511.8 953.1 509.3C957.3 506.8 961.4 505.1 965.6 504.2C969.8 503.3 974.0 503.5 978.2 504.2C982.4 504.9 986.5 507.0 990.7 508.5C994.9 510.0 999.6 512.2 1003.2 513.0C1006.8 513.8 1008.5 514.2 1012.5 513.5C1016.5 512.8 1022.5 510.3 1027.5 508.5C1032.5 506.7 1037.6 503.9 1042.6 502.5C1047.6 501.1 1052.6 500.4 1057.6 500.0C1062.6 499.6 1068.0 499.2 1072.6 500.0C1077.2 500.8 1080.5 503.2 1085.1 505.0C1089.7 506.8 1095.9 510.6 1100.1 511.0C1104.3 511.4 1106.8 508.9 1110.2 507.5C1113.6 506.1 1116.5 503.5 1120.2 502.5C1124.0 501.5 1129.0 502.9 1132.7 501.7C1136.5 500.5 1139.0 499.0 1142.7 495.5C1146.5 492.0 1151.0 485.7 1155.2 480.5C1159.4 475.3 1163.5 469.2 1167.7 464.2C1171.9 459.2 1176.1 454.4 1180.3 450.4C1184.5 446.4 1187.4 443.5 1192.8 440.4C1198.2 437.3 1205.3 434.7 1212.8 431.6C1220.3 428.5 1229.4 425.4 1237.8 421.6C1246.2 417.9 1254.6 412.7 1262.9 409.1C1271.2 405.6 1280.4 402.9 1287.9 400.3C1295.4 397.7 1301.6 395.2 1307.9 393.6C1314.2 392.0 1319.7 391.3 1325.5 390.8C1331.3 390.3 1337.6 390.6 1343.0 390.8C1348.4 391.0 1353.4 392.2 1358.0 392.1C1362.6 392.0 1365.9 391.5 1370.5 390.3C1375.1 389.1 1380.5 386.2 1385.5 384.8C1390.5 383.4 1396.0 382.5 1400.6 382.1C1405.2 381.7 1408.9 381.7 1413.1 382.3C1417.3 382.9 1421.8 384.6 1425.6 385.8C1429.3 387.1 1432.7 388.0 1435.6 389.8C1438.5 391.6 1440.6 392.8 1443.1 396.6C1445.6 400.5 1448.1 406.0 1450.6 412.9C1453.1 419.8 1455.6 429.1 1458.1 437.9C1460.6 446.6 1463.0 456.4 1465.7 465.4C1468.4 474.4 1471.3 483.5 1474.0 492.0C1476.7 500.5 1480.0 510.9 1481.9 516.4C1483.8 521.9 1484.5 522.9 1485.6 525.0C1486.7 527.1 1487.4 529.0 1488.4 529.0C1489.4 529.0 1490.2 527.1 1491.5 525.0C1492.8 522.9 1494.2 521.9 1495.9 516.4C1497.6 510.9 1499.4 499.7 1501.4 492.0C1503.4 484.3 1505.4 476.6 1507.7 470.2C1510.0 463.8 1512.7 457.3 1515.2 453.9C1517.7 450.5 1520.2 449.2 1522.7 449.6C1525.2 450.0 1527.7 452.1 1530.2 456.4C1532.7 460.7 1535.1 468.3 1537.7 475.2C1540.3 482.1 1543.5 491.2 1546.0 498.0C1548.5 504.8 1550.9 512.1 1552.9 516.0C1554.9 519.9 1556.3 520.2 1558.0 521.3C1559.7 522.4 1561.1 522.8 1562.8 522.8C1564.5 522.8 1566.2 522.4 1568.0 521.3C1569.8 520.2 1572.0 518.8 1573.6 516.0C1575.1 513.2 1576.1 507.8 1577.3 504.5C1578.5 501.2 1579.2 500.1 1581.0 496.0C1582.8 491.9 1585.0 486.4 1587.8 480.2C1590.6 474.0 1594.5 465.2 1597.8 458.9C1601.1 452.6 1604.5 446.8 1607.8 442.6C1611.1 438.4 1614.5 435.9 1617.8 433.9C1621.1 431.9 1624.5 431.5 1627.8 430.6C1631.1 429.8 1634.0 430.1 1637.8 428.8C1641.5 427.5 1646.1 425.1 1650.3 422.6C1654.5 420.1 1658.7 416.4 1662.9 413.8C1667.1 411.2 1670.8 408.7 1675.4 406.8C1680.0 404.9 1684.2 403.9 1690.4 402.6C1696.7 401.4 1705.0 400.3 1712.9 399.3C1720.8 398.3 1731.8 397.3 1738.0 396.8C1744.2 396.3 1743.1 396.6 1749.8 396.3C1756.5 396.0 1770.1 396.0 1777.9 395.0C1785.7 394.0 1790.4 391.3 1796.7 390.3C1803.0 389.3 1807.7 389.1 1815.5 388.8C1823.3 388.5 1834.2 388.6 1843.6 388.5C1853.0 388.4 1862.4 388.4 1871.8 388.1C1881.2 387.8 1892.1 387.2 1899.9 386.6C1907.7 386.0 1912.4 385.0 1918.7 384.3C1925.0 383.6 1931.2 382.8 1937.5 382.4C1943.8 382.0 1950.9 381.6 1956.2 381.9C1961.5 382.2 1965.3 383.1 1969.4 384.3C1973.5 385.6 1977.2 387.6 1980.6 389.4C1984.0 391.2 1987.5 393.8 1990.0 395.0C1992.5 396.2 1993.5 396.9 1995.7 396.9C1997.9 396.9 2000.4 395.9 2003.2 395.0C2006.0 394.1 2007.9 392.1 2012.6 391.3C2017.3 390.5 2024.1 390.8 2031.3 390.3C2038.5 389.8 2051.0 388.8 2055.7 388.5C2060.4 388.2 2059.0 388.5 2059.7 388.5"/>
<path stroke="#C279E4" d="M133.2 178.0C133.7 178.0 131.7 178.1 136.2 178.0C140.7 177.9 151.7 178.0 160.0 177.6C168.3 177.2 175.7 175.7 186.3 175.3C197.0 174.9 211.4 175.0 223.9 175.0C236.4 175.0 250.5 174.8 261.4 175.3C272.3 175.8 280.7 177.2 289.5 177.8C298.3 178.4 307.4 178.3 314.0 179.1C320.6 179.9 324.3 182.2 329.0 182.8C333.7 183.4 338.4 182.7 342.1 182.8C345.9 182.9 348.7 182.4 351.5 183.2C354.3 184.0 356.8 184.9 359.0 187.5C361.2 190.1 362.7 194.4 364.6 198.8C366.5 203.2 368.4 209.4 370.3 213.8C372.2 218.2 374.3 222.8 375.9 225.1C377.4 227.3 378.0 227.5 379.6 227.3C381.2 227.1 383.4 225.6 385.3 224.1C387.2 222.6 389.2 219.7 390.9 218.5C392.6 217.3 393.7 216.7 395.6 217.0C397.5 217.3 400.2 218.4 402.2 220.4C404.2 222.4 405.9 224.6 407.8 228.8C409.7 233.0 411.2 238.5 413.4 245.7C415.6 252.9 418.4 263.2 420.9 272.0C423.4 280.8 426.0 290.6 428.5 298.3C431.0 306.0 434.1 313.9 436.0 318.2C437.9 322.4 438.9 322.6 440.0 323.8C441.1 325.0 441.8 325.3 442.8 325.3C443.8 325.3 444.7 324.9 445.8 323.8C446.9 322.7 447.9 321.5 449.6 318.5C451.3 315.5 454.1 312.0 456.2 305.8C458.3 299.6 459.9 289.2 462.2 281.4C464.4 273.6 467.2 265.8 469.7 258.9C472.2 252.0 474.5 245.7 477.3 240.1C480.1 234.5 483.5 229.2 486.6 225.1C489.7 221.0 492.6 218.2 496.0 215.7C499.4 213.2 503.5 211.4 507.3 210.1C511.1 208.8 515.6 208.1 518.6 207.8C521.6 207.5 522.3 207.5 525.0 208.1C527.7 208.7 531.7 209.8 535.0 211.3C538.3 212.8 542.1 216.0 545.0 217.1C547.9 218.2 549.7 218.3 552.6 218.1C555.5 217.8 558.4 216.5 562.6 215.6C566.8 214.7 572.6 213.4 577.6 212.6C582.6 211.8 588.4 210.9 592.6 210.6C596.8 210.3 599.2 209.9 602.6 210.6C606.0 211.3 609.4 212.4 612.7 214.6C616.1 216.8 619.4 219.4 622.7 223.9C626.0 228.4 629.4 234.9 632.7 241.4C636.0 247.9 639.4 255.8 642.7 262.7C646.0 269.6 649.4 277.3 652.7 282.7C656.0 288.1 659.6 292.7 662.7 295.2C665.8 297.7 668.6 297.8 671.5 297.7C674.4 297.6 677.2 296.8 680.3 294.7C683.4 292.6 687.0 288.4 690.3 285.2C693.6 281.9 697.0 277.7 700.3 275.2C703.6 272.7 706.5 271.2 710.3 270.2C714.0 269.1 718.6 268.8 722.8 268.9C727.0 269.0 731.1 270.1 735.3 270.9C739.5 271.6 743.3 272.9 747.9 273.4C752.5 273.9 757.9 273.9 762.9 273.9C767.9 273.9 772.9 273.3 777.9 273.2C782.9 273.1 788.3 272.9 792.9 273.2C797.5 273.5 801.2 273.9 805.4 275.2C809.6 276.5 813.7 278.2 817.9 280.9C822.1 283.6 826.7 287.4 830.5 291.5C834.3 295.6 837.2 299.6 840.5 305.2C843.8 310.8 847.2 318.2 850.5 325.3C853.8 332.4 857.2 340.3 860.5 347.8C863.8 355.3 867.2 363.6 870.5 370.3C873.8 377.0 877.2 382.6 880.5 387.8C883.8 393.0 887.1 398.1 890.5 401.6C893.9 405.2 897.5 407.5 900.6 409.1C903.7 410.7 906.0 411.5 909.3 411.1C912.6 410.7 916.6 409.4 920.6 406.6C924.6 403.8 928.9 398.5 933.1 394.1C937.3 389.7 941.4 384.5 945.6 380.3C949.8 376.1 953.9 371.8 958.1 369.1C962.3 366.4 966.5 364.3 970.7 364.1C974.9 363.9 979.0 366.0 983.2 367.8C987.4 369.6 991.0 372.9 995.7 374.8C1000.4 376.7 1006.4 379.0 1011.3 379.1C1016.2 379.2 1020.2 377.1 1025.0 375.3C1029.8 373.5 1035.1 370.2 1040.1 368.3C1045.1 366.4 1050.5 364.9 1055.1 364.0C1059.7 363.1 1063.8 362.7 1067.6 362.8C1071.3 362.9 1074.3 363.7 1077.6 364.6C1080.9 365.5 1084.5 367.6 1087.6 368.3C1090.7 369.0 1093.7 369.3 1096.4 368.6C1099.1 367.9 1101.2 366.9 1103.9 364.0C1106.6 361.1 1109.6 356.1 1112.7 351.5C1115.8 346.9 1119.0 341.5 1122.7 336.5C1126.5 331.5 1131.0 327.1 1135.2 321.5C1139.4 315.9 1143.5 309.2 1147.7 302.7C1151.9 296.2 1156.0 288.9 1160.2 282.7C1164.4 276.4 1168.5 270.2 1172.7 265.2C1176.9 260.2 1181.1 255.9 1185.3 252.6C1189.5 249.2 1192.8 247.4 1197.8 245.1C1202.8 242.8 1208.6 241.2 1215.3 238.9C1222.0 236.6 1230.3 235.0 1237.8 231.4C1245.3 227.8 1253.3 221.4 1260.4 217.6C1267.5 213.8 1274.6 211.7 1280.4 208.8C1286.2 205.9 1290.4 202.7 1295.4 200.1C1300.4 197.5 1305.4 194.6 1310.4 193.1C1315.4 191.6 1320.1 191.2 1325.5 190.8C1330.9 190.4 1337.2 190.8 1343.0 190.8C1348.8 190.8 1355.9 191.6 1360.5 190.8C1365.1 190.1 1366.8 188.4 1370.5 186.3C1374.2 184.2 1378.8 179.9 1383.0 178.0C1387.2 176.1 1391.4 175.4 1395.6 175.0C1399.8 174.6 1403.9 174.3 1408.1 175.5C1412.3 176.7 1416.4 179.4 1420.6 182.0C1424.8 184.6 1429.5 188.1 1433.1 191.3C1436.6 194.5 1439.4 196.9 1441.9 201.3C1444.4 205.7 1445.8 209.5 1448.1 217.6C1450.4 225.7 1453.1 239.2 1455.6 250.1C1458.1 260.9 1460.7 271.4 1463.2 282.7C1465.7 294.0 1468.6 307.3 1470.7 317.7C1472.8 328.1 1474.3 335.8 1475.9 345.1C1477.5 354.4 1478.9 367.0 1480.5 373.6C1482.1 380.2 1484.0 382.1 1485.5 384.5C1487.0 386.9 1488.2 388.5 1489.6 388.3C1491.0 388.1 1492.4 385.9 1493.8 383.5C1495.2 381.1 1496.9 377.5 1498.1 373.6C1499.3 369.7 1500.1 364.8 1501.0 360.0C1501.9 355.2 1502.2 352.9 1503.6 345.1C1505.0 337.3 1507.5 321.6 1509.4 313.3C1511.3 305.0 1513.1 300.0 1515.0 295.5C1516.9 291.0 1518.9 288.1 1520.7 286.1C1522.5 284.1 1524.2 283.2 1525.9 283.3C1527.6 283.4 1529.4 283.9 1531.0 287.0C1532.6 290.1 1534.0 295.1 1535.7 302.0C1537.4 308.9 1539.4 319.5 1541.3 328.3C1543.2 337.1 1545.1 347.4 1547.0 354.6C1548.9 361.8 1550.7 367.0 1552.6 371.5C1554.5 376.0 1556.2 379.4 1558.2 381.8C1560.2 384.2 1562.6 385.6 1564.8 385.6C1567.0 385.6 1569.4 384.5 1571.4 381.8C1573.4 379.1 1575.1 375.4 1577.0 369.6C1578.9 363.8 1580.4 355.2 1582.6 347.1C1584.8 339.0 1587.6 329.2 1590.1 320.8C1592.6 312.4 1595.1 303.9 1597.6 296.4C1600.1 288.9 1602.6 282.1 1605.1 275.8C1607.6 269.6 1610.2 263.3 1612.7 258.9C1615.2 254.5 1617.4 252.0 1620.2 249.5C1623.0 247.0 1626.4 246.1 1629.5 243.9C1632.6 241.7 1635.5 239.4 1638.9 236.3C1642.4 233.2 1646.4 229.0 1650.2 225.1C1654.0 221.2 1658.1 216.2 1661.5 212.9C1664.9 209.6 1667.7 207.3 1670.8 205.4C1673.9 203.5 1676.1 202.8 1680.2 201.6C1684.3 200.4 1689.6 199.6 1695.2 198.4C1700.8 197.2 1707.7 196.1 1714.0 194.5C1720.3 192.9 1726.8 190.5 1732.8 189.0C1738.8 187.5 1743.8 186.7 1749.8 185.7C1755.8 184.7 1762.2 183.9 1768.5 182.9C1774.8 181.9 1781.0 180.5 1787.3 179.7C1793.6 178.8 1799.8 178.3 1806.1 177.8C1812.4 177.3 1818.7 176.9 1824.9 176.7C1831.2 176.5 1837.3 176.4 1843.6 176.7C1849.8 177.0 1856.1 178.1 1862.4 178.6C1868.7 179.1 1875.0 179.4 1881.2 179.7C1887.5 179.9 1893.7 180.4 1899.9 180.1C1906.2 179.8 1912.4 178.7 1918.7 177.8C1925.0 176.9 1932.2 175.5 1937.5 174.8C1942.8 174.2 1946.2 173.8 1950.6 173.9C1955.0 174.0 1959.7 174.5 1963.8 175.4C1967.9 176.3 1971.6 178.2 1975.0 179.2C1978.4 180.2 1980.7 181.2 1984.4 181.4C1988.2 181.6 1993.4 180.7 1997.5 180.5C2001.6 180.3 2005.3 179.6 2008.8 180.1C2012.2 180.6 2015.1 182.4 2018.2 183.3C2021.3 184.2 2023.8 185.3 2027.6 185.7C2031.3 186.1 2036.0 185.5 2040.7 185.7C2045.4 185.9 2052.5 186.5 2055.7 186.7C2058.9 186.9 2059.0 186.7 2059.7 186.7"/>
</g>
<g stroke="#000" stroke-width="4" stroke-dasharray="9.6 5.9" fill="none" shape-rendering="crispEdges">
<line x1="160.0" y1="145.0" x2="158.0" y2="1068.8"/>
<line x1="441.7" y1="259.0" x2="443.5" y2="1152" stroke-width="4.6"/>
<line x1="667.0" y1="238.0" x2="669.5" y2="1176.8"/>
<line x1="904.0" y1="257.0" x2="904.0" y2="1281.3"/>
<line x1="1567.0" y1="249.0" x2="1567.0" y2="1274.8"/>
</g>
<g shape-rendering="crispEdges"><line x1="271.5" y1="123.3" x2="205.9" y2="142.7" stroke="#000" stroke-width="2.8"/><polygon points="170.1,153.3 205.1,133.2 210.4,151.1" fill="#000"/></g>
<g shape-rendering="crispEdges"><line x1="449.2" y1="1258.6" x2="445.5" y2="1190.2" stroke="#000" stroke-width="2.8"/><polygon points="443.3,1150.0 454.9,1191.7 436.3,1192.7" fill="#000"/></g>
<g shape-rendering="crispEdges"><line x1="725.0" y1="1224.5" x2="693.1" y2="1167.1" stroke="#000" stroke-width="2.8"/><polygon points="675.0,1134.5 702.2,1164.3 686.0,1173.4" fill="#000"/></g>
<g shape-rendering="crispEdges"><line x1="964.7" y1="1321.3" x2="937.6" y2="1296.5" stroke="#000" stroke-width="2.8"/><polygon points="910.1,1271.3 945.4,1291.0 932.8,1304.7" fill="#000"/></g>
<g shape-rendering="crispEdges"><line x1="1681.8" y1="1291.2" x2="1611.3" y2="1231.4" stroke="#000" stroke-width="2.8"/><polygon points="1582.9,1207.3 1618.9,1225.6 1606.9,1239.8" fill="#000"/></g>
<text transform="translate(236.6 1534) scale(0.97 1)" font-size="60.5" text-anchor="middle">1500</text>
<text transform="translate(438.7 1534) scale(0.97 1)" font-size="60.5" text-anchor="middle">1400</text>
<text transform="translate(640.8 1534) scale(0.97 1)" font-size="60.5" text-anchor="middle">1300</text>
<text transform="translate(842.9 1534) scale(0.97 1)" font-size="60.5" text-anchor="middle">1200</text>
<text transform="translate(1045.0 1534) scale(0.97 1)" font-size="60.5" text-anchor="middle">1100</text>
<text transform="translate(1247.1 1534) scale(0.97 1)" font-size="60.5" text-anchor="middle">1000</text>
<text transform="translate(1449.2 1534) scale(0.97 1)" font-size="60.5" text-anchor="middle">900</text>
<text transform="translate(1651.3 1534) scale(0.97 1)" font-size="60.5" text-anchor="middle">800</text>
<text transform="translate(1853.4 1534) scale(0.97 1)" font-size="60.5" text-anchor="middle">700</text>
<text transform="translate(2055.5 1534) scale(0.97 1)" font-size="60.5" text-anchor="middle">600</text>
<text transform="translate(770.5 1655) scale(0.955 1)" font-size="76.5">Wavenumber [cm<tspan font-size="51" dy="-29" dx="3">−1</tspan><tspan dy="29" dx="4.5">]</tspan></text>
<text transform="translate(72 993.5) rotate(-90) scale(0.955 1)" font-size="76.5">Transmittance [a.u.]</text>
<text transform="translate(149.5 104) scale(0.955 1)" font-size="76.5" fill="#0000FF">N–O</text>
<text transform="translate(313 104) scale(0.955 1)" font-size="76.5">1532</text>
<text transform="translate(1798 140.3) scale(0.955 1)" font-size="76.5">30 wt%</text>
<text transform="translate(1802 345.7) scale(0.955 1)" font-size="76.5">20 wt%</text>
<text transform="translate(1795 524.1) scale(0.955 1)" font-size="76.5">10 wt%</text>
<text transform="translate(1824 749) scale(0.955 1)" font-size="76.5">3 wt%</text>
<text transform="translate(1615 1001) scale(0.955 1)" font-size="76.5">P(VDF-TrFE)</text>
<text transform="translate(362 1334.2) scale(0.955 1)" font-size="76.5">1400</text>
<text transform="translate(378 1413.5) scale(0.955 1)" font-size="76.5" fill="#0000FF">C-C</text>
<text transform="translate(688 1302.6) scale(0.955 1)" font-size="76.5">1286</text>
<text transform="translate(689.5 1387.1) scale(0.955 1)" font-size="76.5" fill="#0000FF">(CF<tspan font-size="51" dy="20">2</tspan><tspan dy="-20" dx="2">)</tspan></text>
<text transform="translate(975 1322.1) scale(0.955 1)" font-size="76.5">1170</text>
<text transform="translate(971 1401.9) scale(0.955 1)" font-size="76.5" fill="#0000FF">(CF<tspan font-size="51" dy="20">2</tspan><tspan dy="-20" dx="2">)</tspan></text>
<text transform="translate(1641 1362.1) scale(0.955 1)" font-size="76.5">843</text>
<text transform="translate(644.1 1264.3) scale(1.06 1)" font-size="75.2" fill="#0000FF" font-family='"Liberation Serif", "DejaVu Serif", serif'>β</text>
<text transform="translate(1554.1 1338) scale(1.06 1)" font-size="75.2" fill="#0000FF" font-family='"Liberation Serif", "DejaVu Serif", serif'>β</text>
</svg>
</body></html>
